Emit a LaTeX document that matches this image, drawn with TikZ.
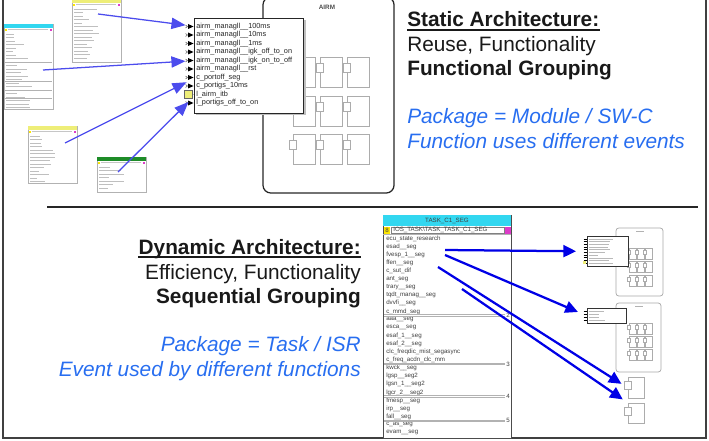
\documentclass[tikz,border=0pt]{standalone}
\usepackage{fontspec}
\setmainfont{Liberation Sans}
\usetikzlibrary{arrows.meta}
\definecolor{arrblue}{RGB}{0,0,230}
\definecolor{pkgblue}{RGB}{40,110,240}
\definecolor{txtblack}{RGB}{25,25,25}
\definecolor{hdryellow}{RGB}{238,238,120}
\definecolor{hdrcyan}{RGB}{50,215,240}
\definecolor{hdrgreen}{RGB}{30,140,40}
\definecolor{tabpink}{RGB}{220,60,200}

% component icon: x, y, width, height (pixels, y down)
\newcommand{\swc}[5][]{%
  \draw[complin,#1] (#2,#3) rectangle ++(#4,#5);
  \draw[complin,fill=white,#1] (#2-0.18*#4,#3+0.2*#5) rectangle ++(0.32*#4,0.33*#5);}

% small table: x, y, width, height, header colour, rows
\newcommand{\minitab}[6]{%
  \draw[gray!60,fill=white,line width=0.4pt] (#1,#2) rectangle ++(#3,#4);
  \fill[#5] (#1,#2) rectangle ++(#3,4);
  \fill[yellow!90!orange] (#1+0.6,#2+4.6) rectangle ++(2.4,2.4);
  \fill[tabpink] (#1+#3-3,#2+4.6) rectangle ++(2.4,2.4);
  \draw[gray!45,line width=0.5pt] (#1+4,#2+5.8) -- ++(#3-9,0);
  \foreach \k in {1,...,#6}{
    \pgfmathsetmacro\len{6+rnd*20}
    \draw[gray!50,line width=0.6pt] (#1+2,#2+6.5+\k*3.5) -- ++(\len,0);}}

\begin{document}
\begin{tikzpicture}[x=0.025cm, y=-0.025cm, every node/.style={inner sep=0pt},
  bigtxt/.style={font=\fontsize{14.8}{17}\selectfont, text=txtblack},
  boldtxt/.style={font=\fontsize{14.8}{17}\selectfont\bfseries, text=txtblack},
  pkgtxt/.style={font=\fontsize{14.8}{17}\selectfont\itshape, text=pkgblue},
  portlbl/.style={font=\fontsize{5.2}{6}\selectfont, text=black!85, anchor=west},
  rowtxt/.style={font=\fontsize{4.4}{5}\selectfont, text=black!75, anchor=west},
  portbox/.style={draw=black!85, line width=0.9pt, fill=white},
  complin/.style={draw=gray!65, line width=0.7pt},
  module/.style={draw=black!85, line width=0.9pt, rounded corners=5.5pt},
  minimod/.style={draw=gray!70, line width=0.5pt, rounded corners=2pt},
  toparr/.style={-{Triangle[length=10pt,width=8pt]}, draw=arrblue!70, line width=0.9pt, shorten >=7.5pt},
  botarr/.style={-{Triangle[length=9pt,width=8.5pt]}, draw=arrblue, line width=1.6pt}]
\useasboundingbox (0,0) rectangle (709,440);
\clip (0,0) rectangle (709,440);
\pgfmathsetseed{7}

% frame and divider
\draw[black!75, line width=2pt] (3,-10) -- (3,438) -- (706,438) -- (706,-10);
\draw[black!85, line width=1.2pt] (47,207) -- (698,207);

% ---- static part
\minitab{72}{-1}{49}{63}{hdryellow}{15}
\minitab{4}{24}{49}{85}{hdrcyan}{22}
\foreach \sy in {62,81,90,98}
  \draw[gray!60, line width=0.4pt] (5,\sy) -- (52,\sy);
\minitab{28}{126}{49}{57}{hdryellow}{14}
\minitab{97}{157}{49}{35}{hdrgreen}{7}

% AIRM module
\draw[module] (263,-3) rectangle (394,193);
\node[font=\fontsize{4.5}{5}\selectfont\bfseries, text=black!70] (airm) at (327,7) {AIRM};
\foreach \cx in {293,320,347}
  \foreach \cy in {57,96,134}
    {\swc{\cx}{\cy}{22}{30}}

% port box
\fill[black!25] (196,20) rectangle (305.5,115);
\node[portbox, minimum width=2.725cm, minimum height=2.375cm, anchor=north west] (pb) at (194,18) {};
\foreach \t [count=\i] in {airm\_managll\_\_100ms, airm\_managll\_\_10ms, airm\_managll\_\_1ms,
    airm\_managll\_\_igk\_off\_to\_on, airm\_managll\_\_igk\_on\_to\_off, airm\_managll\_\_rst,
    c\_portoff\_seg, c\_portigs\_10ms, l\_airm\_itb, l\_portigs\_off\_to\_on}{
  \node[portlbl] (p\i) at (196,26.5+\i*8.5-8.5) {\t};
  \pgfmathsetmacro\py{26.5+(\i-1)*8.5}
  \draw[black!60, line width=0.4pt] (185.5,\py-1.5) -- (187.5,\py) -- (185.5,\py+1.5);
  \fill (188,\py-2.5) -- (193.5,\py) -- (188,\py+2.5) -- cycle;
}
\draw[black!60, fill=hdryellow, line width=0.4pt] (184,90.5) rectangle (192,98.5);

\coordinate (t1) at (98,14);
\coordinate (t2) at (43,70);
\coordinate (t3) at (65,143);
\coordinate (t4) at (118,172);
\draw[toparr] (t1) -- (p1.west);
\draw[toparr] (t2) -- (p5.west);
\draw[toparr] (t3) -- (p7.west);
\draw[toparr] (t4) -- (p9.west);

\node[boldtxt, anchor=base west] (st1) at (407,27) {Static Architecture:};
\draw[txtblack, line width=1.2pt] ([yshift=-2.3pt]st1.base west) -- ([yshift=-2.3pt]st1.base east);
\node[bigtxt, anchor=base west] (st2) at (407,52) {Reuse, Functionality};
\node[boldtxt, anchor=base west] (st3) at (407,75) {Functional Grouping};
\node[pkgtxt, anchor=base west] (st4) at (407,123) {Package = Module / SW-C};
\node[pkgtxt, anchor=base west] (st5) at (407,148) {Function uses different events};

% ---- dynamic part
\node[boldtxt, anchor=base east] (dy1) at (361,254) {Dynamic Architecture:};
\draw[txtblack, line width=1.2pt] ([yshift=-2.3pt]dy1.base west) -- ([yshift=-2.3pt]dy1.base east);
\node[bigtxt, anchor=base east] (dy2) at (361,279) {Efficiency, Functionality};
\node[boldtxt, anchor=base east] (dy3) at (361,303) {Sequential Grouping};
\node[pkgtxt, anchor=base east] (dy4) at (361,351) {Package = Task / ISR};
\node[pkgtxt, anchor=base east] (dy5) at (361,376) {Event used by different functions};

% task table
\node[draw=black!70, line width=0.6pt, fill=white, minimum width=3.2cm, minimum height=5.575cm, anchor=north west] (task) at (383,215) {};
\fill[hdrcyan] (383.4,215.4) rectangle (510.6,226);
\node[rowtxt, anchor=center] (taskhdr) at (447,220.7) {TASK\_C1\_SEG};
\draw[black!50, fill=white, line width=0.3pt] (391,227) rectangle (504,233.5);
\fill[yellow!90!orange] (384,227) rectangle (390,233.5);
\node[rowtxt, anchor=center] (tasknum) at (387,230.3) {8};
\fill[tabpink] (505,227) rectangle (510.5,233.5);
\node[rowtxt] (taskid) at (393,230.3) {IOS\_TASK\textbackslash TASK\_TASK\_C1\_SEG};
\draw[gray!60, line width=0.4pt] (383,234.6) -- (511,234.6);
\foreach \t [count=\i] in {ecu\_state\_research, esad\_\_seg, fvesp\_1\_\_seg, ffen\_\_seg, c\_sut\_dif,
    ant\_seg, trary\_\_seg, tqdt\_manag\_\_seg, dvvfi\_\_seg, c\_mmd\_seg, aaa\_\_seg, esca\_\_seg,
    esaf\_1\_\_seg, esaf\_2\_\_seg, clc\_freqdic\_mist\_segasync, c\_freq\_acdn\_clc\_mm, kwck\_\_seg,
    lgsp\_\_seg2, lgsn\_1\_\_seg2, lgcr\_2\_\_seg2, fmesp\_\_seg, irp\_\_seg, fall\_\_seg, c\_as\_seg, evam\_\_seg}
  \node[rowtxt] (r\i) at (386,238.5+\i*8.1-8.1) {\t};
\foreach \j/\n in {10/2,16/3,20/4,23/5}{
  \pgfmathsetmacro\sy{238.5+(\j-1)*8.1+4.05}
  \draw[gray!60, line width=0.4pt] (384,\sy-0.7) -- (505,\sy-0.7) (384,\sy+0.7) -- (505,\sy+0.7);
  \node[rowtxt, anchor=center] (sep\n) at (508,\sy) {\n};
}

% mini module 1
\draw[minimod] (616,228) rectangle (663,296);
\draw[gray!60, line width=0.8pt] (636,231.5) -- (644,231.5);
\foreach \cx in {629,637,645}
  \foreach \cy in {248,261,275}
    {\swc[line width=0.45pt]{\cx}{\cy}{7}{11}}
\node[draw=black!80, line width=0.5pt, fill=white, minimum width=1.025cm, minimum height=0.75cm, anchor=north west] (mp1) at (587,236) {};
\foreach \k in {0,...,9}{
  \draw[black, line width=0.7pt] (583.5,239+\k*2.7) -- (586.5,239+\k*2.7);
  \pgfmathsetmacro\len{8+rnd*18}
  \draw[gray!55, line width=0.5pt] (589,239+\k*2.7) -- ++(\len,0);
}
\fill[hdryellow] (583,261) rectangle (586,263.5);

% mini module 2
\draw[minimod] (616,303) rectangle (661,372);
\draw[gray!60, line width=0.8pt] (635,306.5) -- (643,306.5);
\foreach \cx in {629,637,645}
  \foreach \cy in {323,336,349}
    {\swc[line width=0.45pt]{\cx}{\cy}{7}{11}}
\node[draw=black!80, line width=0.5pt, fill=white, minimum width=0.975cm, minimum height=0.375cm, anchor=north west] (mp2) at (587,308) {};
\foreach \k in {0,...,3}{
  \draw[black, line width=0.7pt] (583.5,311+\k*3) -- (586.5,311+\k*3);
  \pgfmathsetmacro\len{6+rnd*10}
  \draw[gray!55, line width=0.5pt] (589,311+\k*3) -- ++(\len,0);
}

% single components
\node[complin, minimum width=0.4cm, minimum height=0.525cm, anchor=north west] (ca) at (628,377) {};
\draw[complin, fill=white] (624.5,381) rectangle (631.5,389);
\node[complin, minimum width=0.4cm, minimum height=0.5cm, anchor=north west] (cb) at (628,403) {};
\draw[complin, fill=white] (624.5,407) rectangle (631.5,415);

\coordinate (s1) at (445,250);
\coordinate (s2) at (445,255);
\coordinate (s3) at (438,267);
\coordinate (s4) at (462,289);
\draw[botarr, shorten >=7.8pt] (s1) -- (mp1.west);
\draw[botarr, shorten >=7pt] (s2) -- (mp2.west);
\draw[botarr, shorten >=5.5pt] (s3) -- (ca.west);
\draw[botarr, shorten >=4.5pt] (s4) -- (cb.north west);
\end{tikzpicture}
\end{document}
